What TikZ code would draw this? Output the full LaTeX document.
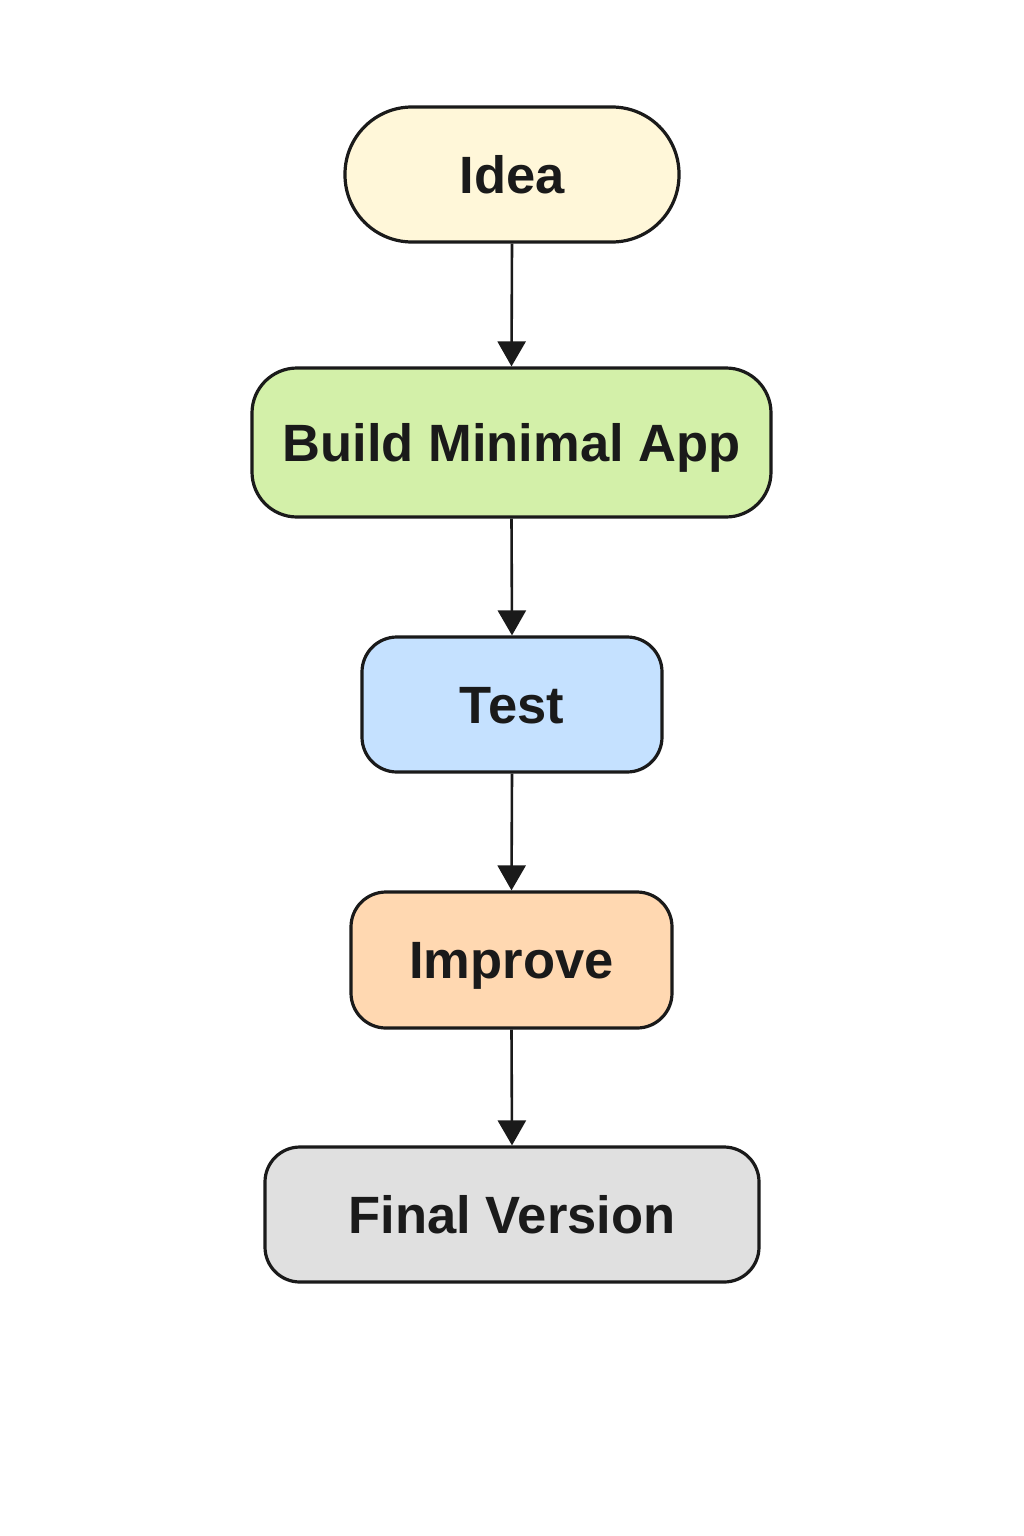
\documentclass[tikz,border=0pt]{standalone}
\usepackage{fontspec}
\setmainfont{Liberation Sans}
\usetikzlibrary{arrows.meta}
\definecolor{cidea}{HTML}{FFF7D9}
\definecolor{cbuild}{HTML}{D3F0A9}
\definecolor{ctest}{HTML}{C5E1FF}
\definecolor{cimprove}{HTML}{FFD8B1}
\definecolor{cfinal}{HTML}{E0E0E0}
\definecolor{cline}{HTML}{1A1A1A}
\tikzset{
  stepbox/.style={draw=cline, line width=3.2pt, rectangle, inner sep=0pt,
    font=\bfseries\fontsize{52.5}{60}\selectfont, text=cline,
    text height=37.6pt, text depth=0pt},
  conn/.style={draw=cline, line width=2.6pt, -{Triangle[width=28pt,length=25pt]}},
}
\begin{document}
\begin{tikzpicture}[x=1pt,y=-1pt]
\useasboundingbox[fill=white] (0,0) rectangle (1024,1536);
\node[stepbox, fill=cidea, minimum width=334pt, minimum height=135pt, rounded corners=67pt] (idea) at (512,174.5) {Idea};
\node[stepbox, fill=cbuild, minimum width=519pt, minimum height=149pt, rounded corners=45pt] (build) at (511.5,442.5) {Build Minimal App};
\node[stepbox, fill=ctest, minimum width=300pt, minimum height=135pt, rounded corners=35pt] (test) at (512,704.5) {Test};
\node[stepbox, fill=cimprove, minimum width=321pt, minimum height=136pt, rounded corners=35pt] (improve) at (511.5,960) {Improve};
\node[stepbox, fill=cfinal, minimum width=494pt, minimum height=135pt, rounded corners=35pt] (final) at (512,1214.5) {Final Version};
\draw[conn] (idea.south) -- (build.north);
\draw[conn] (build.south) -- (test.north);
\draw[conn] (test.south) -- (improve.north);
\draw[conn] (improve.south) -- (final.north);
\end{tikzpicture}
\end{document}
